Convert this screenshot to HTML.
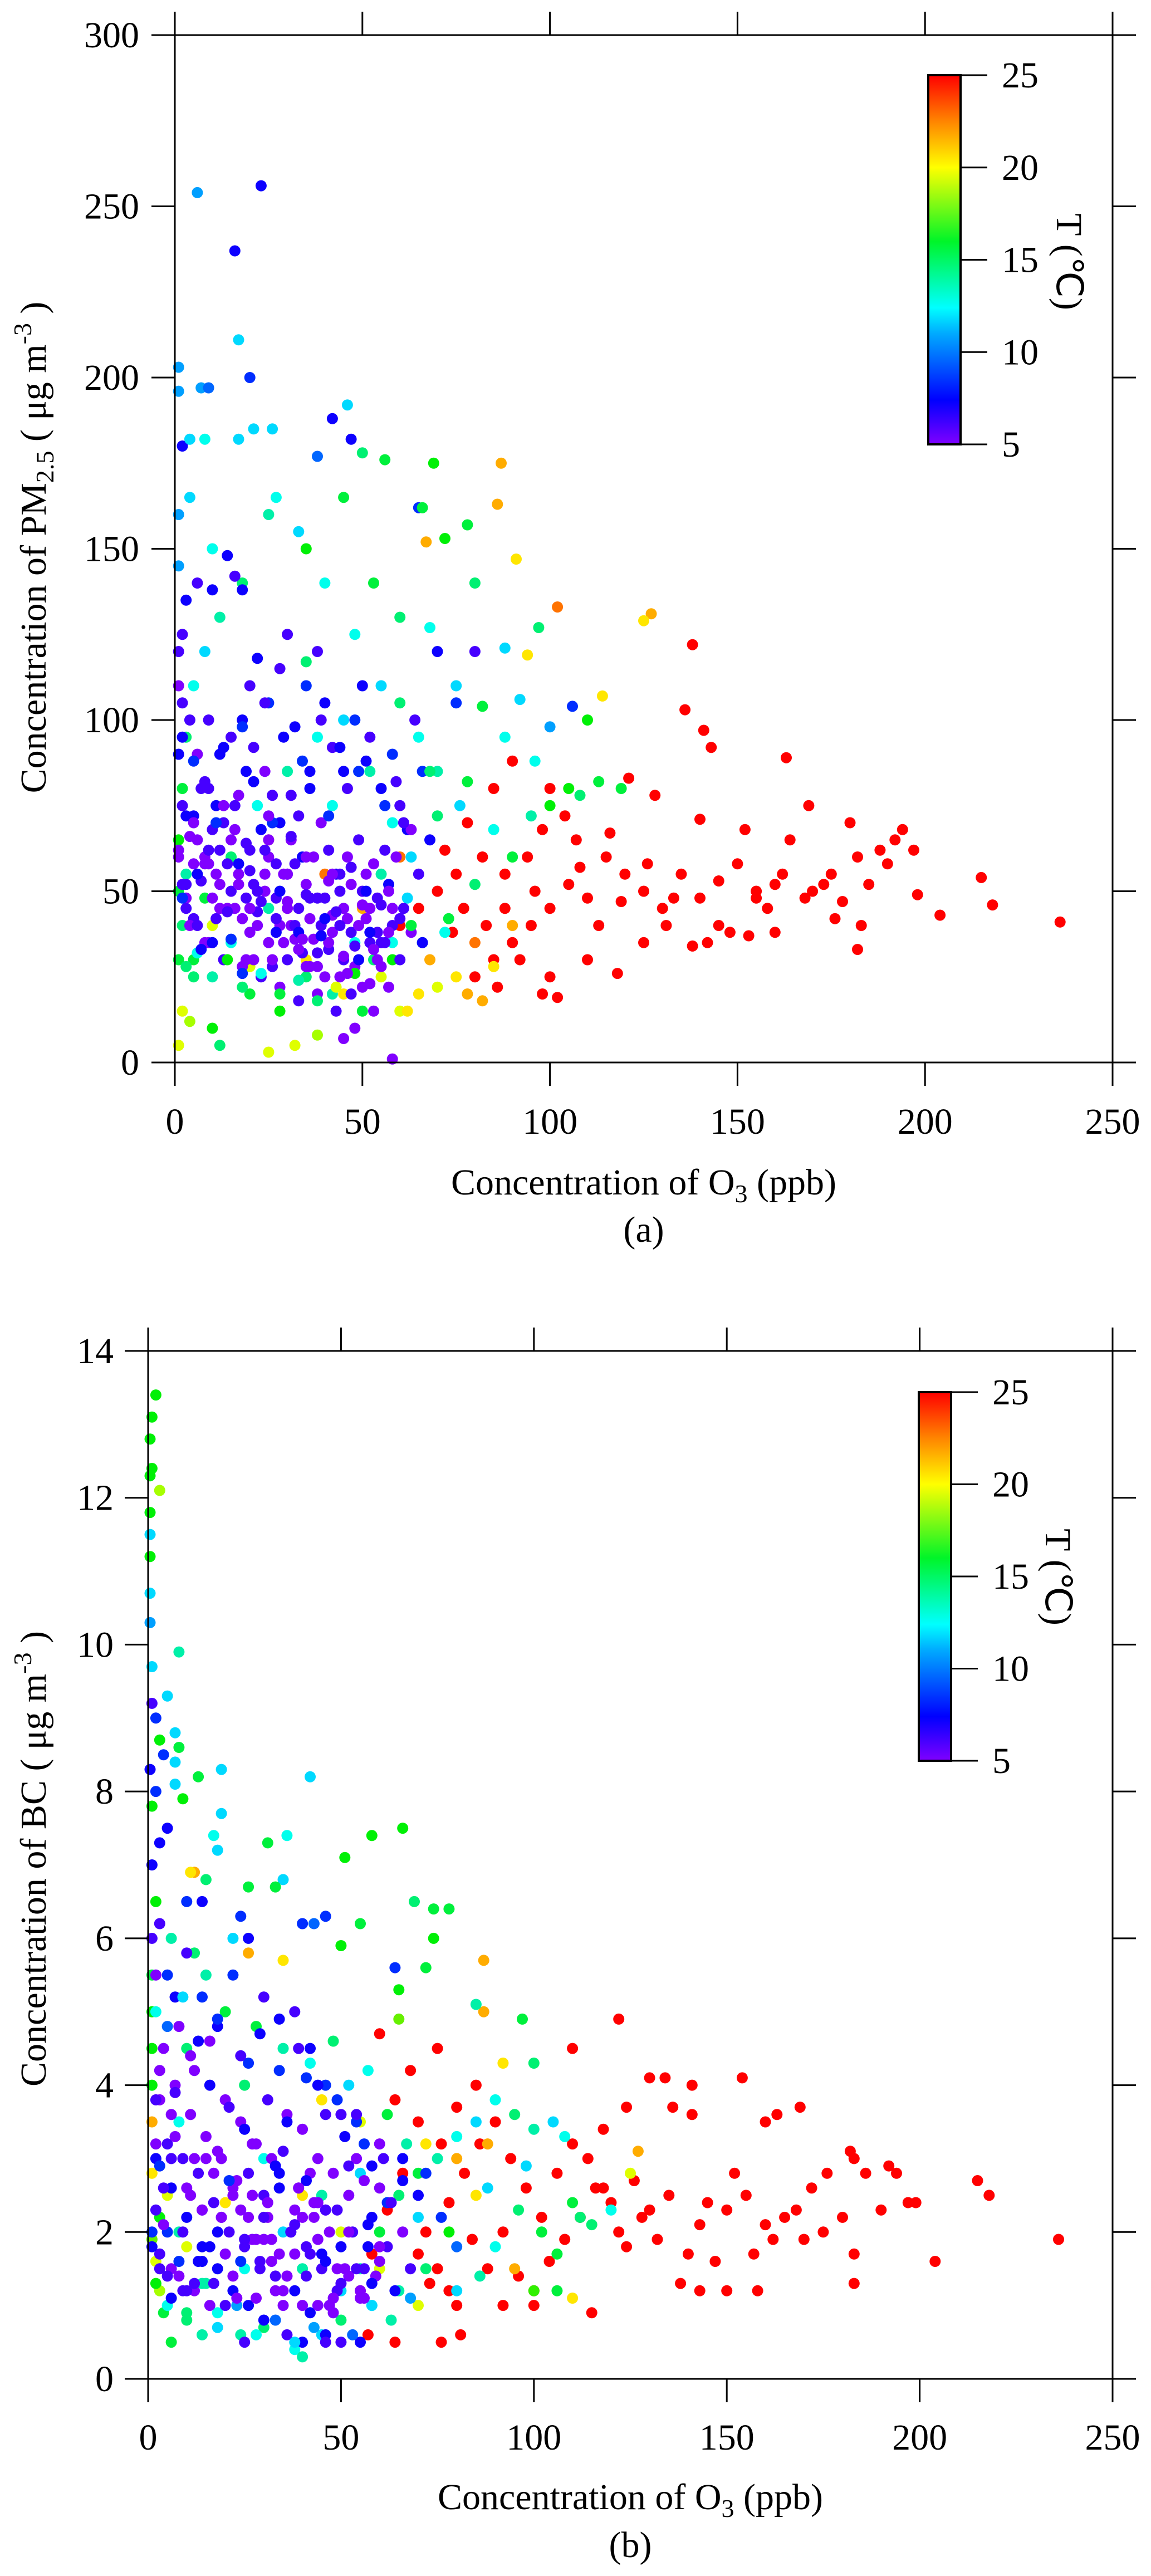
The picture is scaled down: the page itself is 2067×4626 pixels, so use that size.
<!DOCTYPE html>
<html><head><meta charset="utf-8"><style>
html,body{margin:0;padding:0;background:#fff}
svg{display:block}
text{font-family:"Liberation Serif",serif;fill:#000}
</style></head><body>
<svg id="fig" width="2067" height="4626" viewBox="0 0 2067 4626" xmlns="http://www.w3.org/2000/svg" style="position:absolute;left:0;top:0">
<defs>
<linearGradient id="cbar" x1="0" y1="1" x2="0" y2="0">
<stop offset="0" stop-color="hsl(270,100%,50%)"/><stop offset="0.12" stop-color="hsl(240,100%,50%)"/>
<stop offset="0.3" stop-color="hsl(200,100%,50%)"/><stop offset="0.37" stop-color="hsl(180,100%,50%)"/><stop offset="0.55" stop-color="hsl(130,100%,48%)"/>
<stop offset="0.75" stop-color="hsl(60,100%,50%)"/><stop offset="0.88" stop-color="hsl(30,100%,50%)"/>
<stop offset="1" stop-color="hsl(0,100%,50%)"/></linearGradient>
</defs>
<g id="panelA"></g>
<g id="panelB"></g>
</svg>
<script>
const xTicks=[0,50,100,150,200,250];
const yTicksA=[0,50,100,150,200,250,300];
const yTicksB=[0,2,4,6,8,10,12,14];
const cTicks=[5,10,15,20,25];

const o3A=[6,23,16,17,20,1,7,9,1,2,4,8,17,21,26,42,46,47,38,50,56,69,87,86,65,66,72,78,91,67,102,127,125,114,94,97,88,92,82,106,100,110,138,136,141,143,163,169,180,194,197,215,218,236,204,198,
150,155,160,158,170,175,182,185,190,183,182,176,168,145,140,135,130,125,120,115,110,105,100,95,90,85,80,100,110,118,113,125,131,148,153,160,142,138,164,152,128,140,121,116,107,98,94,88,82,75,70,72,78,85,90,100,104,108,96,88,83,77,74,65,60,92,98,102,86,173,178,188,192,155,162,145,133,126,119,
75,78,82,70,85,65,2,4,1,25,32,38,60,68,80,90,55,45,35,20,30,40,50,60,25,10,62,
5,10,12,20,28,35,42,50,58,66,73,80,90,100,105,113,119,108,95,85,76,70,65,60,55,48,40,33,25,18,12,8,5,3,2,1,1,2,3,15,22,30,38,45,52,58,63,70,78,88,96,75,68,80,60,53,45,35,27,10,4,1,1,35,42,25,15,48,55,62,72,5,8,
1,2,1,2,1,3,5,8,10,12,15,18,20,22,25,28,30,32,35,38,40,42,45,48,50,52,55,58,45,40,35,30,25,20,15,10,5,8,12,15,18,20,22,25,28,30,32,35,38,40,42,45,48,50,52,55,58,60,62,65,68,66,64,70,75,80,16,18,14,10,6,3,2,1,4,6,9,11,13,17,19,21,24,26,28,31,33,36,39,41,43,46,49,51,54,57,59,61,63,60,57,53,48,45,58,43,38,33,28,23,18,13,8,5,3,7,11,14,17,21,24,27,30,33,36,39,42,44,47,50,53,56,34,29,26,37,41,44,47,51,19,16,9,6,23,27,31,34,47,52,36,32,24,20,
2,4,6,9,12,14,17,19,22,25,27,30,33,35,38,41,44,46,49,52,55,57,60,63,3,7,11,16,21,26,31,36,41,46,51,56,61,66,1,3,6,10,14,18,23,28,33,38,43,48,53,58,63,68,2,5,9,13,18,24,29,34,39,44,49,54,
1,3,5,7,9,11,13,15,17,19,21,23,25,27,29,31,33,35,37,39,41,43,45,47,49,51,53,55,57,59,2,4,6,8,10,12,14,16,18,20,22,24,26,28,30,32,34,36,38,40,42,44,46,48,50,52,54,56,58,60];
const pmA=[254,256,237,211,200,203,197,197,196,180,182,182,182,185,185,188,192,182,177,178,176,175,175,163,162,162,153,157,147,152,133,131,129,107,119,127,121,106,104,104,98,100,122,103,97,92,89,75,70,68,62,54,46,41,43,49,
58,50,52,45,50,55,60,52,58,40,33,42,48,40,48,55,45,50,55,60,48,52,45,40,35,30,25,25,30,26,40,35,40,38,37,38,35,34,65,68,78,71,83,67,65,68,60,55,60,55,50,62,70,80,88,80,72,57,50,45,40,45,38,45,40,30,20,19,22,52,47,62,65,48,55,53,48,58,47,
25,20,18,22,28,20,15,12,5,3,5,8,15,30,35,40,25,20,30,28,45,55,45,60,65,40,15,
30,10,5,20,15,25,20,15,30,35,42,52,60,75,80,82,80,78,72,68,75,85,95,105,110,125,140,155,160,140,130,120,110,95,80,65,50,40,55,60,75,85,95,100,85,70,60,72,82,95,88,110,127,140,130,140,165,150,165,150,165,145,160,117,75,45,35,35,55,48,38,25,48,
120,105,90,75,60,52,58,60,48,45,50,42,38,44,35,40,30,36,28,32,25,38,30,28,22,35,28,40,45,48,52,55,60,62,65,68,72,82,90,95,100,110,118,105,115,125,98,110,120,105,92,85,100,110,95,80,90,75,68,55,65,85,100,120,105,120,142,138,148,138,140,135,125,110,100,90,80,75,70,78,85,92,85,78,70,65,72,80,70,62,55,60,65,55,48,52,60,45,38,30,22,15,10,7,1,15,20,18,22,25,28,30,35,42,48,53,55,58,55,52,50,48,47,45,42,40,43,50,52,50,58,62,60,35,28,36,33,25,38,42,48,45,62,65,68,58,40,32,20,23,28,40,55,
45,52,40,55,35,62,45,58,30,50,65,42,55,38,60,48,35,55,42,30,45,35,50,42,68,72,80,70,75,82,70,78,85,72,80,88,75,70,35,30,28,32,25,30,22,26,20,24,18,22,26,30,35,40,85,95,88,100,92,98,105,95,88,100,92,85,
38,62,45,70,33,58,42,75,36,52,64,30,47,72,38,55,66,33,49,60,37,53,44,31,57,40,50,33,46,38,82,48,66,40,58,35,52,44,68,26,56,40,62,30,50,45,58,36,48,28,42,55,40,26,34,46,38,30,35,45];
const tA=[10,7,7,11,8,10,10,9,10,7,11,12,11,11,11,7,11,7,9,14,15,16,22,22,8,15,16,15,21,22,23,22,21,21,21,14,11,11,15,8,10,16,25,25,25,25,25,25,25,25,25,25,25,25,25,25,
25,25,25,25,25,25,25,25,25,25,25,25,25,25,25,25,25,25,25,25,25,25,25,25,25,25,25,25,25,25,25,25,25,25,25,25,25,25,25,25,25,25,25,25,25,25,25,25,25,25,25,25,25,25,25,25,25,25,25,25,25,25,25,25,25,25,25,25,25,25,25,25,25,25,25,25,25,25,25,
21,22,22,20,21,21,20,19,20,20,20,19,20,22,23,22,20,21,21,20,22,23,22,23,22,20,21,
15,16,14,15,16,14,13,15,16,14,15,14,15,16,16,15,15,14,13,12,11,13,12,14,11,12,12,11,13,14,13,11,12,14,15,16,15,14,13,14,12,13,12,11,13,12,11,14,15,12,12,11,12,14,14,15,15,16,12,12,11,10,10,14,12,13,12,12,13,11,12,14,15,
6,6,7,6,5,6,5,5,5,5,6,5,5,6,5,5,6,5,5,6,5,5,6,5,5,6,5,6,5,6,5,6,5,6,5,6,7,6,7,6,7,6,7,8,6,6,7,8,6,7,6,7,8,7,6,7,8,6,7,6,7,8,6,7,8,6,6,7,7,7,6,7,6,5,6,5,6,7,6,5,7,6,5,6,7,5,6,7,5,6,7,5,6,5,6,7,5,6,5,6,5,5,5,5,5,6,5,6,5,6,5,6,5,6,5,6,5,6,5,6,5,6,5,6,5,6,5,6,5,6,5,6,7,5,6,5,6,5,6,5,6,5,6,5,7,6,5,6,6,5,5,6,5,5,
6,5,7,5,6,5,7,5,6,5,6,5,7,5,6,5,6,5,7,5,6,5,6,5,7,6,8,6,7,8,6,7,8,6,7,8,6,7,15,14,12,13,16,14,12,15,13,14,20,16,14,12,15,14,7,8,6,7,8,6,7,8,6,7,8,6,
5,6,5,7,5,6,5,8,5,6,5,6,5,7,5,6,5,6,5,7,5,6,5,6,5,7,5,6,5,6,8,5,6,5,7,5,6,5,8,6,5,6,5,7,5,6,5,6,5,7,5,6,5,6,5,7,5,6,5,6];

const o3B=[1,2,0.5,1,0.5,3,0.5,0.5,0.5,0.5,0.5,1,8,1,5,7,3,8,13,19,42,7,0.5,7,9,17,19,18,31,36,58,66,51,5,3,12,35,33,26,15,69,74,78,10,14,24,40,46,43,50,55,74,72,64,65,87,87,85,97,100,122,110,134,130,141,154,169,163,160,141,136,124,118,182,183,192,194,215,218,236,204,199,197,190,186,176,172,168,165,160,157,152,150,147,143,140,138,132,128,124,120,116,112,108,104,100,96,92,88,84,80,76,81,73,70,72,78,82,86,90,94,98,102,106,110,114,118,122,126,130,135,145,155,162,170,175,180,183,183,158,150,143,115,100,85,80,75,68,64,60,76,66,62,58,55,64,57,70,92,
75,78,72,80,85,88,92,70,60,50,40,30,20,10,5,2,3,1,65,100,127,125,95,110,55,45,35,26,11,
1,1,1,1,2,1,3,2,4,6,10,14,18,24,30,38,40,45,50,55,60,65,70,75,80,85,90,95,100,105,108,110,112,106,102,96,90,86,80,72,65,58,50,40,30,25,20,15,10,8,6,12,22,28,35,42,48,52,57,62,67,55,45,35,25,15,5,8,70,78,88,98,115,120,106,
1,1,1,1,2,2,3,4,5,6,7,8,9,10,11,12,13,14,15,16,17,18,19,20,21,22,23,24,25,26,27,28,29,30,31,32,33,34,35,36,37,38,39,40,41,42,43,44,45,46,47,48,49,50,52,54,56,58,60,62,64,66,68,70,3,5,8,12,16,20,24,28,32,36,40,44,48,52,56,60,14,18,22,26,30,34,38,42,46,10,6,2,3,5,7,10,14,18,22,26,30,34,38,42,46,50,54,58,62,66,72,76,80,4,2,2,40,36,25,46,55,50,
2,4,6,9,12,14,17,19,22,25,27,30,33,35,38,41,44,46,49,52,55,57,60,63,3,7,11,16,21,26,31,36,41,46,51,56,61,66,1,3,6,10,14,18,23,28,33,38,43,48,53,58,63,68,2,5,9,13,18,24,29,34,39,44,49,54,
1,3,5,7,9,11,13,15,17,19,21,23,25,27,29,31,33,35,37,39,41,43,45,47,49,51,53,55,57,59,2,4,6,8,10,12,14,16,18,20,22,24,26,28,30,32,34,36,38,40,42,44,46,48,50,52,54,56,58,60];
const bcB=[13.1,13.4,12.8,12.4,12.3,12.1,11.8,11.5,11.2,10.7,10.3,9.7,9.9,9.2,9.3,8.8,8.7,8.6,8.2,8.3,8.2,8.4,8.3,8.1,7.9,7.4,7.7,7.2,7.3,7.4,7.4,7.5,7.1,7.5,7.3,6.9,6.8,6.7,6.7,6.8,6.5,6.4,6.4,6.5,6.5,6.3,6.2,6.3,6.2,5.9,6.2,6.0,5.6,5.6,5.3,5.7,5.0,5.1,4.9,4.3,4.9,4.5,4.1,4.1,4.0,4.1,3.7,3.6,3.5,3.6,3.7,3.7,3.4,3.1,3.0,2.9,2.8,2.7,2.5,1.9,1.6,2.4,2.4,2.3,2.8,2.8,2.6,2.3,2.2,2.1,1.7,2.8,2.3,1.6,2.1,1.7,1.3,1.9,2.2,1.8,2.4,2.6,2.2,1.9,1.6,1.2,1.4,1.0,1.5,1.9,1.0,0.5,0.6,1.3,1.7,2.0,2.4,2.8,3.2,3.5,3.0,2.6,2.2,2.8,3.2,3.0,2.6,2.0,2.7,2.3,2.5,2.4,2.5,1.9,1.9,2.0,2.2,1.7,1.3,1.2,1.2,1.2,0.9,1.0,4.0,3.7,4.5,4.2,3.8,4.7,3.2,2.8,2.3,1.7,1.2,0.5,0.6,3.5,2.0,
1.5,1.2,3.2,3.0,2.5,3.2,4.3,1.0,1.5,2.0,2.5,2.2,2.4,1.8,2.5,1.6,1.2,1.9,4.9,1.2,3.1,2.8,1.5,1.1,3.5,3.8,5.7,5.8,6.9,
2.8,3.5,4.5,5.5,6.5,7.8,2.2,1.3,0.9,0.5,0.8,0.6,0.9,0.6,0.7,0.4,0.3,0.6,1.2,1.5,2.0,2.5,2.8,3.0,3.3,3.5,3.8,3.6,3.4,3.5,3.3,2.4,2.2,1.7,2.0,2.3,1.8,1.4,1.2,1.5,1.2,1.0,0.8,1.5,3.0,4.0,5.0,5.5,4.5,3.5,6.0,5.8,6.0,4.8,4.5,4.3,4.6,4.0,4.2,3.6,3.2,2.8,2.5,2.0,1.5,1.3,1.0,2.0,2.2,2.0,2.6,2.9,2.1,2.3,1.2,
4.0,5.0,6.0,7.0,3.0,2.3,3.8,4.5,3.2,2.6,4.0,4.8,3.0,2.2,3.6,4.2,2.8,1.8,3.3,4.6,2.4,1.5,3.0,3.8,2.0,1.2,2.7,3.5,1.8,1.0,2.5,3.2,1.6,0.8,2.2,3.0,1.4,2.8,1.0,3.6,2.0,1.2,2.6,3.4,1.8,0.9,2.4,3.0,1.5,0.6,2.0,2.8,1.2,1.8,2.5,3.0,1.5,2.2,2.6,1.8,1.2,2.0,1.5,2.5,1.7,2.0,1.4,1.2,1.0,1.7,2.3,1.9,1.6,1.4,2.2,1.9,1.1,1.4,2.7,3.2,2.3,2.0,2.6,2.2,1.9,1.7,2.3,2.8,2.3,1.2,1.5,5.5,6.2,5.5,5.2,5.8,5.2,4.8,5.5,6.0,5.2,4.9,5.0,4.5,4.0,3.6,3.5,2.9,2.4,3.0,2.8,2.2,1.8,8.5,8.0,9.0,0.5,0.6,0.5,0.5,0.5,0.5,
3.2,2.6,3.6,2.0,3.0,1.6,2.8,2.2,1.4,3.4,1.9,2.5,1.2,3.1,1.7,2.7,1.0,2.3,1.5,2.9,1.1,2.1,1.6,2.4,4.2,3.9,4.4,4.0,3.7,4.3,3.8,3.5,4.1,3.6,3.3,3.2,3.0,2.7,2.0,1.5,1.1,0.9,1.3,0.7,1.0,0.6,0.8,0.5,0.7,0.9,0.6,1.0,0.8,1.1,5.0,4.8,5.2,4.6,4.9,4.4,4.7,4.2,4.5,4.0,3.8,3.6,
1.8,2.9,1.4,3.3,1.2,2.5,1.6,3.0,1.3,2.2,2.7,1.1,1.9,3.2,1.5,2.4,2.9,1.2,2.0,2.6,1.4,2.2,1.7,1.0,2.3,1.5,2.0,1.2,1.8,1.4,3.8,2.1,3.0,1.6,2.6,1.3,2.3,1.8,3.1,1.0,2.5,1.6,2.8,1.1,2.2,1.9,2.6,1.4,2.1,1.0,1.7,2.4,1.6,0.9,1.3,2.0,1.5,1.1,1.3,1.8];
const tB=[16,16,16,16,16,19,16,11,16,11,10,11,13,6,11,11,16,15,15,11,11,11,7,11,16,12,11,11,15,12,16,16,16,7,7,22,11,15,15,14,14,15,15,8,7,8,8,8,9,16,15,16,15,8,16,22,22,13,15,14,25,25,25,25,25,25,25,25,25,25,25,25,25,25,25,25,25,25,25,25,25,25,25,25,25,25,25,25,25,25,25,25,25,25,25,25,25,25,25,25,25,25,25,25,25,25,25,25,25,25,25,25,25,25,25,25,25,25,25,25,25,25,25,25,25,25,25,25,25,25,25,25,25,25,25,25,25,25,25,25,25,25,25,25,25,25,25,25,25,25,25,25,25,25,25,25,25,25,25,25,25,
21,22,21,22,21,20,20,20,21,20,21,20,20,20,19,18,18,17,22,20,22,21,20,21,21,22,21,21,22,
16,15,16,16,16,16,15,15,14,13,12,13,14,12,13,11,11,13,15,14,15,13,12,11,12,14,13,11,12,15,14,15,15,14,12,13,11,14,13,12,14,13,12,14,15,13,14,12,13,14,11,15,13,12,14,11,12,15,13,11,13,11,12,13,12,13,11,16,11,11,14,12,15,16,16,
6,7,7,6,5,5,6,7,5,5,6,7,5,5,6,7,5,5,6,7,5,5,6,7,5,5,6,7,5,5,6,7,5,5,6,7,5,5,6,7,5,5,6,7,5,5,6,7,5,5,6,7,5,5,6,7,5,6,7,5,6,7,6,8,5,5,5,5,5,5,5,5,5,5,5,5,5,5,6,7,5,5,5,5,5,5,5,6,5,5,6,8,7,6,8,7,8,7,6,7,6,7,8,6,8,7,8,7,8,8,9,8,8,8,7,6,6,6,7,6,5,6,5,
6,5,7,5,6,5,7,5,6,5,6,5,7,5,6,5,6,5,7,5,6,5,6,5,7,6,8,6,7,8,6,7,8,6,7,8,6,7,14,13,11,10,12,9,11,10,12,9,11,13,10,12,9,11,7,8,6,7,8,6,7,8,6,7,8,6,
5,6,5,7,5,6,5,8,5,6,5,6,5,7,5,6,5,6,5,7,5,6,5,6,5,7,5,6,5,6,8,5,6,5,7,5,6,5,8,6,5,6,5,7,5,6,5,6,5,7,5,6,5,6,5,7,5,6,5,6];

const NS='http://www.w3.org/2000/svg';
function mk(tag,attrs,parent){const e=document.createElementNS(NS,tag);for(const k in attrs)e.setAttribute(k,attrs[k]);parent.appendChild(e);return e;}
function col(t){if(t===undefined)t=6;const h=Math.max(0,Math.min(272,270-(t-5)*13.5));const l=(h>90&&h<170)?47:50;return 'hsl('+h+',100%,'+l+'%)';}

function panel(g,o){
  const X=v=>o.L+v/250*(o.R-o.L);
  const Y=v=>o.B-v/o.ymax*(o.B-o.T);
  const pts=mk('g',{},g);
  
  
  const n=Math.min(o.xs.length,o.ys.length);
  for(let i=0;i<n;i++){
    const c=mk('circle',{cx:X(o.xs[i]).toFixed(1),cy:Y(o.ys[i]).toFixed(1),r:10,fill:col(o.ts[i])},pts);
    
    
  }
  const fr=mk('rect',{x:o.L,y:o.T,width:o.R-o.L,height:o.B-o.T,fill:'none',stroke:'#000','stroke-width':3},g);
  
  
  const tk=42;
  xTicks.forEach(v=>{
    mk('line',{x1:X(v),x2:X(v),y1:o.B,y2:o.B+tk,stroke:'#000','stroke-width':3},g);
    mk('line',{x1:X(v),x2:X(v),y1:o.T,y2:o.T-tk,stroke:'#000','stroke-width':3},g);
    const t=mk('text',{x:X(v),y:o.xl,'font-size':66,'text-anchor':'middle'},g);t.textContent=v;
    
    
  });
  o.yt.forEach(v=>{
    mk('line',{x1:o.L,x2:o.L-tk,y1:Y(v),y2:Y(v),stroke:'#000','stroke-width':3},g);
    mk('line',{x1:o.R,x2:o.R+tk,y1:Y(v),y2:Y(v),stroke:'#000','stroke-width':3},g);
    const t=mk('text',{x:o.yr,y:Y(v)+22,'font-size':66,'text-anchor':'end'},g);t.textContent=v;
    
    
  });
  const cb=mk('rect',{x:o.cx1,y:o.cy1,width:o.cx2-o.cx1,height:o.cy2-o.cy1,fill:'url(#cbar)',stroke:'#000','stroke-width':4},g);
  
  
  cTicks.forEach(v=>{
    const yy=o.cy2-(v-5)/20*(o.cy2-o.cy1);
    mk('line',{x1:o.cx2,x2:o.cx2+48,y1:yy,y2:yy,stroke:'#000','stroke-width':3},g);
    const t=mk('text',{x:o.cx2+74,y:yy+22,'font-size':66},g);t.textContent=v;
    
    
  });
}
const gA=document.getElementById('panelA'), gB=document.getElementById('panelB');
panel(gA,{L:314,R:1998,T:63,B:1908,ymax:300,yt:yTicksA,xs:o3A,ys:pmA,ts:tA,cx1:1667,cx2:1725,cy1:135,cy2:798,xl:2036,yr:250});
panel(gB,{L:266,R:1998,T:2426,B:4272,ymax:14,yt:yTicksB,xs:o3B,ys:bcB,ts:tB,cx1:1650,cx2:1708,cy1:2500,cy2:3162,xl:4399,yr:204});
</script>
<svg style="position:absolute;left:0;top:0" width="2067" height="4626" xmlns="http://www.w3.org/2000/svg">
<g font-family="Liberation Serif, serif" font-size="66">
<text x="1156" y="2145" text-anchor="middle">Concentration of O<tspan font-size="46" dy="14">3</tspan><tspan dy="-14"> (ppb)</tspan></text>
<text x="1156" y="2230" text-anchor="middle">(a)</text>
<text transform="translate(82,983) rotate(-90)" text-anchor="middle">Concentration of PM<tspan font-size="46" dy="14">2.5</tspan><tspan dy="-14"> ( μg m</tspan><tspan font-size="46" dy="-26">-3</tspan><tspan dy="26"> )</tspan></text>
<text transform="translate(1898,470) rotate(90)" text-anchor="middle">T (℃)</text>
</g>
<g font-family="Liberation Serif, serif" font-size="66">
<text x="1132" y="4506" text-anchor="middle">Concentration of O<tspan font-size="46" dy="14">3</tspan><tspan dy="-14"> (ppb)</tspan></text>
<text x="1132" y="4592" text-anchor="middle">(b)</text>
<text transform="translate(82,3338) rotate(-90)" text-anchor="middle">Concentration of BC ( μg m<tspan font-size="46" dy="-26">-3</tspan><tspan dy="26"> )</tspan></text>
<text transform="translate(1878,2832) rotate(90)" text-anchor="middle">T (℃)</text>
</g>
</svg>
</body></html>
